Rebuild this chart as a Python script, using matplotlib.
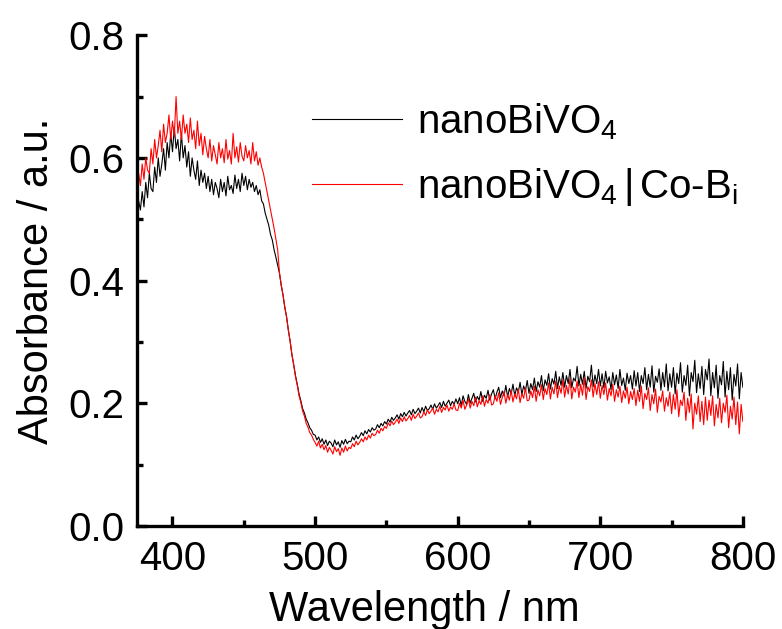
import numpy as np
import matplotlib
matplotlib.use("Agg")
import matplotlib.pyplot as plt
from matplotlib.ticker import MultipleLocator

plt.rcParams['font.family'] = ['Liberation Sans', 'DejaVu Sans']
plt.rcParams['mathtext.fontset'] = 'custom'
plt.rcParams['mathtext.rm'] = 'Liberation Sans'
plt.rcParams['mathtext.it'] = 'Liberation Sans:italic'

# Wavelength grid (nm), 1.25 nm steps from 375 to 800
wavelength = np.arange(375, 800.01, 1.25)

nano_bivo4 = [
    0.49, 0.53, 0.515, 0.545, 0.52, 0.56, 0.535, 0.575, 0.55, 0.545, 0.585, 0.56, 0.60, 0.57, 0.59, 0.615, 0.58, 0.625, 0.60, 0.64,
    0.61, 0.65, 0.615, 0.63, 0.595, 0.64, 0.60, 0.62, 0.585, 0.61, 0.57, 0.60, 0.58, 0.565, 0.595, 0.555, 0.58, 0.56, 0.575, 0.55,
    0.57, 0.545, 0.565, 0.54, 0.56, 0.55, 0.535, 0.565, 0.545, 0.56, 0.538, 0.57, 0.548, 0.555, 0.542, 0.572, 0.55, 0.565, 0.545, 0.575,
    0.555, 0.57, 0.548, 0.565, 0.552, 0.56, 0.545, 0.555, 0.54, 0.548, 0.53, 0.525, 0.51, 0.50, 0.49, 0.475, 0.466, 0.45, 0.438, 0.425,
    0.412, 0.392, 0.376, 0.356, 0.341, 0.319, 0.301, 0.279, 0.263, 0.245, 0.231, 0.215, 0.204, 0.191, 0.184, 0.174, 0.168, 0.16, 0.156, 0.149,
    0.148, 0.14, 0.145, 0.136, 0.142, 0.133, 0.14, 0.131, 0.138, 0.135, 0.129, 0.14, 0.132, 0.137, 0.128, 0.139, 0.133, 0.141, 0.134, 0.138,
    0.137, 0.145, 0.14, 0.148, 0.142, 0.146, 0.152, 0.147, 0.155, 0.15, 0.157, 0.153, 0.16, 0.156, 0.158, 0.165, 0.16, 0.167, 0.163, 0.17,
    0.166, 0.174, 0.169, 0.177, 0.172, 0.176, 0.181, 0.174, 0.183, 0.178, 0.185, 0.179, 0.184, 0.188, 0.181, 0.19, 0.183, 0.187, 0.192, 0.184,
    0.193, 0.186, 0.195, 0.188, 0.191, 0.197, 0.19, 0.199, 0.192, 0.196, 0.201, 0.193, 0.203, 0.195, 0.20, 0.205, 0.196, 0.203, 0.198, 0.207,
    0.199, 0.209, 0.196, 0.212, 0.203, 0.198, 0.214, 0.20, 0.208, 0.216, 0.202, 0.211, 0.205, 0.219, 0.203, 0.213, 0.208, 0.221, 0.205, 0.215,
    0.222, 0.207, 0.218, 0.226, 0.209, 0.22, 0.212, 0.229, 0.21, 0.224, 0.215, 0.231, 0.212, 0.225, 0.218, 0.234, 0.214, 0.228, 0.22, 0.237,
    0.216, 0.232, 0.222, 0.241, 0.219, 0.235, 0.226, 0.245, 0.22, 0.238, 0.229, 0.248, 0.223, 0.24, 0.231, 0.252, 0.224, 0.243, 0.229, 0.25,
    0.226, 0.245, 0.232, 0.255, 0.225, 0.241, 0.236, 0.26, 0.228, 0.247, 0.231, 0.252, 0.224, 0.244, 0.235, 0.262, 0.227, 0.246, 0.232, 0.255,
    0.228, 0.248, 0.225, 0.252, 0.233, 0.243, 0.222, 0.25, 0.23, 0.246, 0.224, 0.255, 0.229, 0.241, 0.221, 0.249, 0.232, 0.245, 0.223, 0.253,
    0.228, 0.25, 0.219, 0.245, 0.232, 0.258, 0.222, 0.247, 0.226, 0.261, 0.218, 0.244, 0.234, 0.256, 0.221, 0.25, 0.227, 0.264, 0.22, 0.248,
    0.226, 0.258, 0.215, 0.249, 0.232, 0.266, 0.218, 0.245, 0.229, 0.262, 0.212, 0.25, 0.235, 0.27, 0.217, 0.248, 0.224, 0.26, 0.214, 0.255,
    0.238, 0.272, 0.212, 0.25, 0.225, 0.262, 0.208, 0.245, 0.23, 0.268, 0.21, 0.252, 0.222, 0.258, 0.205, 0.247, 0.228, 0.264, 0.207, 0.25,
    0.226,
]

nano_bivo4_cobi = [
    0.54, 0.575, 0.555, 0.59, 0.565, 0.60, 0.58, 0.575, 0.615, 0.59, 0.63, 0.60, 0.62, 0.645, 0.61, 0.655, 0.625, 0.64, 0.67, 0.63,
    0.66, 0.635, 0.70, 0.64, 0.66, 0.63, 0.67, 0.64, 0.655, 0.625, 0.665, 0.63, 0.645, 0.615, 0.66, 0.62, 0.64, 0.605, 0.635, 0.615,
    0.60, 0.63, 0.595, 0.62, 0.605, 0.59, 0.625, 0.60, 0.615, 0.592, 0.63, 0.598, 0.612, 0.59, 0.64, 0.60, 0.618, 0.593, 0.625, 0.603,
    0.595, 0.62, 0.60, 0.612, 0.59, 0.625, 0.595, 0.61, 0.588, 0.60, 0.585, 0.575, 0.56, 0.545, 0.53, 0.515, 0.50, 0.485, 0.467, 0.45,
    0.413, 0.393, 0.377, 0.357, 0.34, 0.319, 0.301, 0.279, 0.262, 0.243, 0.229, 0.212, 0.201, 0.187, 0.179, 0.167, 0.161, 0.152, 0.148, 0.141,
    0.136, 0.13, 0.138, 0.127, 0.133, 0.124, 0.131, 0.12, 0.128, 0.123, 0.117, 0.129, 0.121, 0.126, 0.115, 0.127, 0.12, 0.13, 0.122, 0.128,
    0.126, 0.134, 0.129, 0.138, 0.132, 0.136, 0.142, 0.137, 0.145, 0.14, 0.148, 0.143, 0.151, 0.147, 0.149, 0.156, 0.151, 0.159, 0.155, 0.162,
    0.159, 0.168, 0.163, 0.171, 0.165, 0.169, 0.174, 0.167, 0.176, 0.17, 0.178, 0.171, 0.175, 0.18, 0.172, 0.182, 0.175, 0.179, 0.184, 0.176,
    0.178, 0.186, 0.18, 0.189, 0.183, 0.187, 0.192, 0.182, 0.19, 0.186, 0.195, 0.185, 0.193, 0.189, 0.197, 0.187, 0.194, 0.19, 0.199, 0.189,
    0.188, 0.20, 0.192, 0.205, 0.19, 0.197, 0.207, 0.192, 0.203, 0.196, 0.21, 0.194, 0.204, 0.198, 0.212, 0.195, 0.206, 0.20, 0.214, 0.197,
    0.199, 0.212, 0.203, 0.217, 0.198, 0.209, 0.219, 0.20, 0.214, 0.205, 0.221, 0.202, 0.215, 0.207, 0.223, 0.201, 0.216, 0.208, 0.225, 0.204,
    0.205, 0.22, 0.209, 0.228, 0.203, 0.222, 0.212, 0.23, 0.206, 0.224, 0.214, 0.233, 0.207, 0.226, 0.215, 0.236, 0.209, 0.228, 0.216, 0.238,
    0.21, 0.229, 0.215, 0.24, 0.207, 0.226, 0.218, 0.236, 0.209, 0.231, 0.213, 0.242, 0.206, 0.227, 0.219, 0.238, 0.21, 0.232, 0.214, 0.235,
    0.208, 0.229, 0.214, 0.233, 0.205, 0.224, 0.212, 0.231, 0.203, 0.222, 0.21, 0.228, 0.201, 0.22, 0.208, 0.226, 0.199, 0.219, 0.206, 0.224,
    0.196, 0.221, 0.203, 0.228, 0.191, 0.216, 0.206, 0.225, 0.188, 0.214, 0.199, 0.223, 0.185, 0.211, 0.202, 0.22, 0.187, 0.209, 0.195, 0.218,
    0.183, 0.214, 0.19, 0.222, 0.178, 0.205, 0.196, 0.218, 0.172, 0.208, 0.185, 0.215, 0.158, 0.20, 0.182, 0.212, 0.17, 0.203, 0.165, 0.21,
    0.172, 0.205, 0.18, 0.212, 0.163, 0.198, 0.176, 0.208, 0.168, 0.20, 0.185, 0.213, 0.16, 0.195, 0.174, 0.21, 0.165, 0.202, 0.15, 0.198,
    0.17,
]

labels = ['nanoBiVO$_4$', 'nanoBiVO$_4$$\\,$|$\\,$Co-B$_\\mathrm{i}$']
xticks = [400, 500, 600, 700, 800]
yticks = [0.0, 0.2, 0.4, 0.6, 0.8]

fig = plt.figure(figsize=(7.82, 6.29), dpi=100)
ax = fig.add_axes([0.175, 0.164, 0.775, 0.780])

ax.plot(wavelength, nano_bivo4, color='black', lw=0.8, label=labels[0])
ax.plot(wavelength, nano_bivo4_cobi, color='#ff0000', lw=0.8, label=labels[1])

ax.set_xlim(375, 800)
ax.set_ylim(0.0, 0.8)
ax.set_xticks(xticks)
ax.set_yticks(yticks)
ax.set_yticklabels([f'{v:.1f}' for v in yticks])
ax.xaxis.set_minor_locator(MultipleLocator(50))
ax.yaxis.set_minor_locator(MultipleLocator(0.1))

for s in ['top', 'right']:
    ax.spines[s].set_visible(False)
for s in ['left', 'bottom']:
    ax.spines[s].set_linewidth(2.4)

ax.tick_params(which='major', direction='in', length=7, width=2.4,
               labelsize=29)
ax.tick_params(axis='x', which='major', pad=10)
ax.tick_params(axis='y', which='major', pad=9)
ax.tick_params(which='minor', direction='in', length=4, width=2.4)

ax.set_xlabel('Wavelength / nm', fontsize=30, labelpad=9)
ax.xaxis.label.set_x(0.475)
ax.set_ylabel('Absorbance / a.u.', fontsize=30, labelpad=8)

leg = ax.legend(loc='upper left', bbox_to_anchor=(0.289, 0.865), frameon=False,
                fontsize=29, handlelength=2.23, handletextpad=0.37,
                labelspacing=0.6, borderpad=0, borderaxespad=0)
for line in leg.get_lines():
    line.set_linewidth(0.8)

fig.savefig('out.png', dpi=100)
